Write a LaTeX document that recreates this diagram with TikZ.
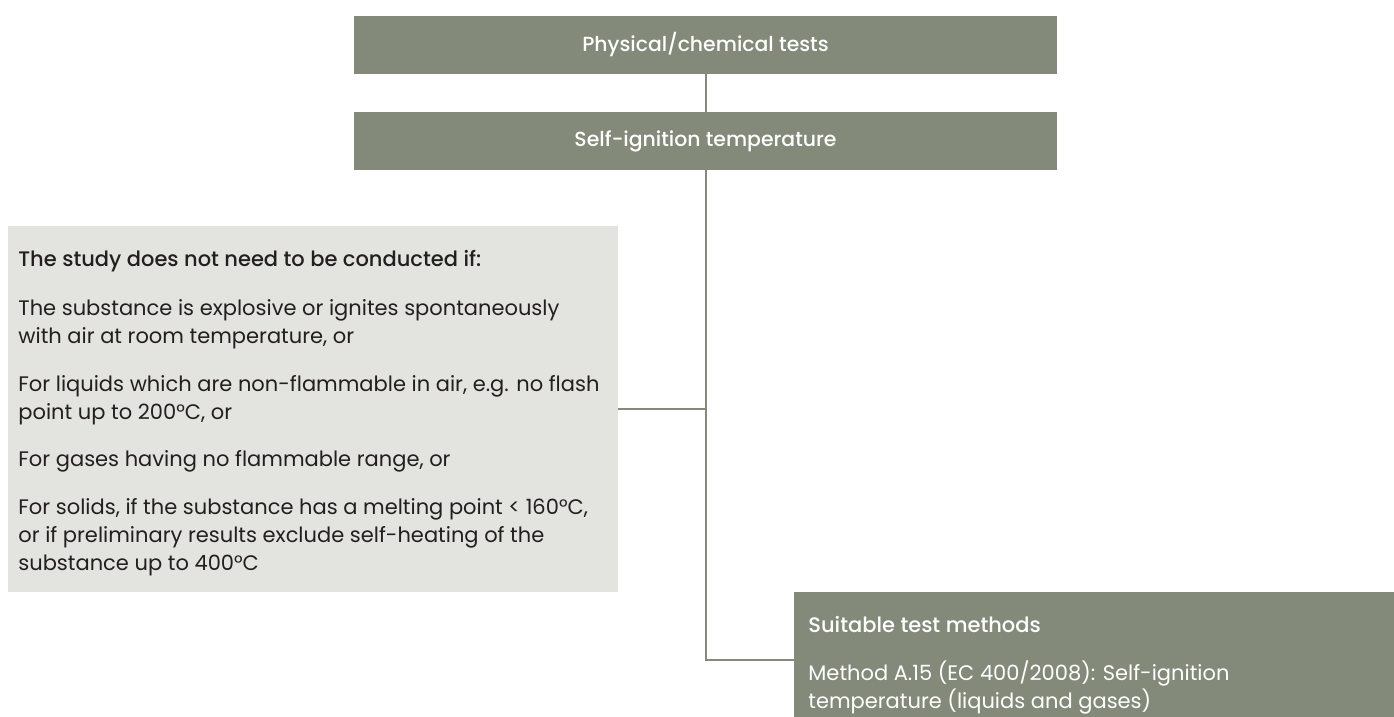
\documentclass[tikz,border=0pt]{standalone}
\usepackage{fontspec}
\setmainfont{Poppins}[BoldFont={Poppins Medium}]
\usepackage{xcolor}
\usetikzlibrary{positioning}
\definecolor{sage}{HTML}{838A7A}
\definecolor{sagepale}{HTML}{E3E4DF}
\definecolor{ink}{HTML}{231F20}

\begin{document}
\begin{tikzpicture}[x=0.5pt, y=-0.5pt, every node/.style={font=\fontsize{10.5}{14}\selectfont, inner sep=0pt},
  head/.style={fill=sage, text=white, font=\fontsize{10.2}{14}\selectfont\bfseries, minimum width=351.5pt, minimum height=29pt},
  cond/.style={fill=sagepale, minimum width=305pt, minimum height=183pt},
  meth/.style={fill=sage, minimum width=300pt, minimum height=63pt},
  txt/.style={align=left, anchor=north west},
  link/.style={draw=sage, line width=1pt}]
  \useasboundingbox (0,0) rectangle (1394,717);
  \node[head] (tests) at (705.5,45) {Physical/chemical tests};
  \node[head] (ignit) at (705.5,141) {Self-ignition temperature};
  \node[cond] (waiver) at (313,409) {};
  \node[meth] (methods) at (1094,655) {};
  % texts inside the boxes
  \node[txt, text=ink] (waivertxt) at (18,250) {\textbf{The study does not need to be conducted if:}\\[10.5pt]
    The substance is explosive or ignites spontaneously\\
    with air at room temperature, or\\[9.8pt]
    For liquids which are non-flammable in air, e.g. no flash\\
    point up to 200°C, or\\[9.8pt]
    For gases having no flammable range, or\\[9.8pt]
    For solids, if the substance has a melting point < 160°C,\\
    or if preliminary results exclude self-heating of the\\
    substance up to 400°C};
  \node[txt, text=white] (methodstxt) at (808,616) {\textbf{Suitable test methods}\\[10pt]
    Method A.15 (EC 400/2008): Self-ignition\\
    temperature (liquids and gases)};
  % connectors
  \coordinate (knee) at (ignit.south |- 0,660);
  \draw[link] (tests) -- (ignit);
  \draw[link] (ignit.south) -- (knee) -- (knee -| methods.west);
  \draw[link] (waiver.east) -- (waiver.east -| ignit.south);
\end{tikzpicture}
\end{document}
